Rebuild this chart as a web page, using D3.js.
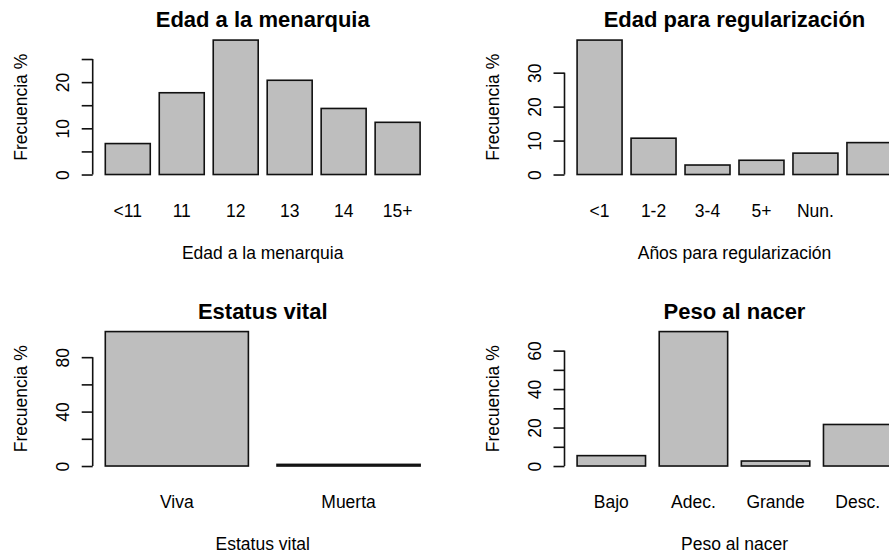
<!DOCTYPE html>
<html>
<head>
<meta charset="utf-8">
<script src="https://cdn.jsdelivr.net/npm/d3@7"></script>
<style>
  html, body { margin: 0; padding: 0; background: #fff; }
  svg { display: block; }
  text { font-family: "Liberation Sans", Arial, Helvetica, sans-serif; fill: #000; }
</style>
</head>
<body>
<svg id="chart" width="889" height="557"></svg>
<script>
// Edad a la menarquia (%)
const menarquiaCats = ["<11", "11", "12", "13", "14", "15+"];
const menarquiaPct = [6.7, 17.7, 29.1, 20.4, 14.3, 11.3];
const menarquiaTicks = [0, 5, 10, 15, 20, 25];
const menarquiaTickLabels = ["0", "", "10", "", "20", ""];

// Años para regularización (%) — the last label is left blank
const regularCats = ["<1", "1-2", "3-4", "5+", "Nun.", ""];
const regularPct = [39.6, 10.7, 2.8, 4.2, 6.3, 9.4];
const regularTicks = [0, 10, 20, 30];
const regularTickLabels = ["0", "10", "20", "30"];

// Estatus vital (%)
const vitalCats = ["Viva", "Muerta"];
const vitalPct = [98.8, 1.2];
const vitalTicks = [0, 20, 40, 60, 80];
const vitalTickLabels = ["0", "", "40", "", "80"];

// Peso al nacer (%)
const pesoCats = ["Bajo", "Adec.", "Grande", "Desc."];
const pesoPct = [5.4, 69.9, 2.6, 21.6];
const pesoTicks = [0, 10, 20, 30, 40, 50, 60];
const pesoTickLabels = ["0", "", "20", "", "40", "", "60"];

const svg = d3.select("#chart");

// Plot regions of the 2x2 grid
const colX = [92.7, 564.5];
const rowY = [34.7, 326.2];
const plotW = 340, plotH = 145.2;

const panels = [
  { title: "Edad a la menarquia", xlab: "Edad a la menarquia", cats: menarquiaCats, vals: menarquiaPct,
    ticks: menarquiaTicks, tickLabels: menarquiaTickLabels, col: 0, row: 0 },
  { title: "Edad para regularización", xlab: "Años para regularización", cats: regularCats, vals: regularPct,
    ticks: regularTicks, tickLabels: regularTickLabels, col: 1, row: 0 },
  { title: "Estatus vital", xlab: "Estatus vital", cats: vitalCats, vals: vitalPct,
    ticks: vitalTicks, tickLabels: vitalTickLabels, col: 0, row: 1 },
  { title: "Peso al nacer", xlab: "Peso al nacer", cats: pesoCats, vals: pesoPct,
    ticks: pesoTicks, tickLabels: pesoTickLabels, col: 1, row: 1 }
];

const spaceRatio = 0.2;   // gap between bars, in bar widths
const fontSize = 17.5;
const titleSize = 22;
const ink = "#111";

panels.forEach(p => {
  const left = colX[p.col], top = rowY[p.row];
  const right = left + plotW, bottom = top + plotH;
  const n = p.vals.length;

  // bar slots: bar i spans [0.2 + 1.2 i, 1.2 (i + 1)], range padded by 4%
  const lo = spaceRatio, hi = n * (1 + spaceRatio);
  const padX = 0.04 * (hi - lo);
  const x = d3.scaleLinear().domain([lo - padX, hi + padX]).range([left, right]);

  const maxV = d3.max(p.vals);
  const y = d3.scaleLinear().domain([-0.04 * maxV, 1.04 * maxV]).range([bottom, top]);

  const g = svg.append("g");

  // bars
  g.selectAll("rect.bar")
    .data(p.vals)
    .join("rect")
    .attr("class", "bar")
    .attr("x", (d, i) => x(spaceRatio + i * (1 + spaceRatio)))
    .attr("width", (d, i) => x(1) - x(0))
    .attr("y", d => y(d))
    .attr("height", d => y(0) - y(d))
    .attr("fill", "#bebebe")
    .attr("stroke", ink)
    .attr("stroke-width", 1.6);

  // category labels under bars
  g.selectAll("text.cat")
    .data(p.cats)
    .join("text")
    .attr("class", "cat")
    .attr("x", (d, i) => x(spaceRatio + i * (1 + spaceRatio) + 0.5))
    .attr("y", bottom + 36.8)
    .attr("text-anchor", "middle")
    .style("font-size", fontSize + "px")
    .text(d => d);

  // y axis
  const axis = d3.axisLeft(y)
    .tickValues(p.ticks)
    .tickSize(11)
    .tickSizeOuter(0)
    .tickFormat((d, i) => p.tickLabels[i]);
  const ag = g.append("g").attr("transform", `translate(${left},0)`).call(axis);
  ag.select(".domain").remove();
  ag.append("line")
    .attr("x1", 0).attr("x2", 0)
    .attr("y1", y(p.ticks[0])).attr("y2", y(p.ticks[p.ticks.length - 1]))
    .attr("stroke", ink).attr("stroke-width", 1.6);
  ag.selectAll(".tick line").attr("stroke", ink).attr("stroke-width", 1.6);
  ag.selectAll(".tick text")
    .attr("x", null).attr("dy", null)
    .attr("transform", "translate(-24,0) rotate(-90)")
    .attr("text-anchor", "middle")
    .attr("y", 0)
    .style("font-size", fontSize + "px")
    .style("font-family", "'Liberation Sans', Arial, sans-serif")
    .attr("fill", "#000");

  // y axis title
  g.append("text")
    .attr("transform", `translate(${left - 66},${(top + bottom) / 2}) rotate(-90)`)
    .attr("text-anchor", "middle")
    .style("font-size", fontSize + "px")
    .text("Frecuencia %");

  // x axis title
  g.append("text")
    .attr("x", (left + right) / 2)
    .attr("y", bottom + 79)
    .attr("text-anchor", "middle")
    .style("font-size", fontSize + "px")
    .text(p.xlab);

  // main title
  g.append("text")
    .attr("x", (left + right) / 2)
    .attr("y", top - 7.5)
    .attr("text-anchor", "middle")
    .style("font-size", titleSize + "px")
    .style("font-weight", "bold")
    .text(p.title);
});
</script>
</body>
</html>
